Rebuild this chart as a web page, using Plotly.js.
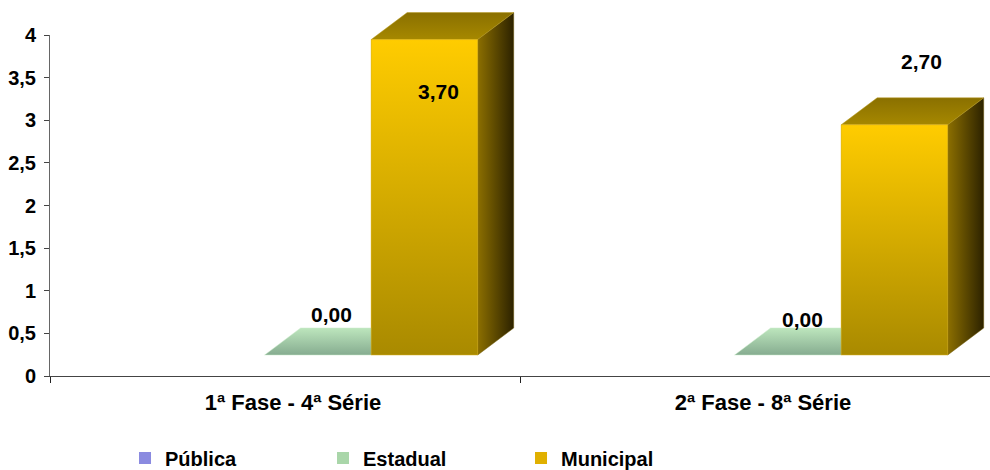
<!DOCTYPE html>
<html>
<head>
<meta charset="utf-8">
<script src="https://cdn.plot.ly/plotly-3.0.1.min.js"></script>
<style>html,body{margin:0;padding:0;background:#fff}#chart{width:990px;height:470px}</style>
</head>
<body>
<div id="chart"></div>
<script>
// ---- data ----
const categories = ['1ª Fase - 4ª Série', '2ª Fase - 8ª Série'];
const seriesNames = ['Pública', 'Estadual', 'Municipal'];
const publica = [null, null];
const estadual = [0, 0];
const municipal = [3.70, 2.70];
const yTickVals = [0, 0.5, 1, 1.5, 2, 2.5, 3, 3.5, 4];

// ---- styles ----
const seriesValues = [publica, estadual, municipal];
const legendColors = ['#8A8AE0', '#A9D6A9', '#E0B000'];
const frontScales = [
  [[0, '#5A5AB0'], [1, '#9A9AF0']],
  [[0, '#86A88E'], [1, '#BDE6BD']],
  [[0, '#A98A00'], [1, '#FFCC00']]
];
const sideScales = [
  [[0, '#4A4A90'], [1, '#202050']],
  [[0, '#6E8E74'], [1, '#3A5040']],
  [[0, '#8C6F00'], [1, '#2C2200']]
];
const topScales = [
  [[0, '#7070C0'], [1, '#8080D0']],
  [[0, '#86AC90'], [1, '#BDE6BD']],
  [[0, '#A68800'], [1, '#8A7000']]
];
// label offsets in pixels [series][category]
const labelShiftX = [[0, 0], [14, 15], [14, 27]];
const labelShiftY = [[0, 0], [41, 36], [-52, 63]];

const W = 990, H = 470;
const M = {l: 50, r: 0, t: 0, b: 94, autoexpand: false};
const plotW = W - M.l - M.r;          // 940
const plotH = H - M.t - M.b;          // 376
const axisTopPx = 35;                 // pixel of y=4 on visible axis
const yPx = (plotH - axisTopPx) / 4;  // px per unit
const xPx = plotW / 2;                // px per category
const bargap = 0.32;
const bw = (1 - bargap) / 3;
const depthDX = 36 / xPx;
const depthDY = 27 / yPx;
const floorLiftPx = 21;               // front floor above axis line
const groupShift = 0.07;              // category shift of bar groups

const fam = 'Liberation Sans, Arial, sans-serif';
const tickFont = {family: fam, size: 20, color: '#000', weight: 'bold'};
const catFont = {family: fam, size: 22, color: '#000', weight: 'bold'};
const labelFont = {family: fam, size: 21, color: '#000', weight: 'bold'};
const legendFont = {family: fam, size: 20, color: '#000', weight: 'bold'};

const traces = [];
// dummy trace to hold categories on visible axes
traces.push({type: 'scatter', x: categories, y: [0, 0], xaxis: 'x', yaxis: 'y', mode: 'markers',
  marker: {opacity: 0}, showlegend: false, hoverinfo: 'skip'});

const idx = categories.map((c, j) => j);
seriesValues.forEach((vals, i) => {
  traces.push({
    type: 'bar', name: seriesNames[i], x: idx, y: vals, xaxis: 'x2', yaxis: 'y2',
    marker: {color: legendColors[i], line: {width: 0}}, hoverinfo: 'name+y'
  });
});

const annotations = [];
seriesValues.forEach((vals, i) => {
  vals.forEach((v, j) => {
    if (v === null || v === undefined) return;
    const xc = j + (i - 1) * bw;
    const x0 = xc - bw / 2, x1 = xc + bw / 2;
    const y0 = 0, y1 = v;
    if (v > 0) {
      traces.push({type: 'scatter', xaxis: 'x2', yaxis: 'y2', mode: 'lines', showlegend: false, hoverinfo: 'skip',
        x: [x1, x1, x1 + depthDX, x1 + depthDX, x1], y: [y0, y1, y1 + depthDY, y0 + depthDY, y0],
        fill: 'toself', line: {width: 0.5, color: '#6A5400'},
        fillgradient: {type: 'horizontal', colorscale: sideScales[i]}});
    }
    traces.push({type: 'scatter', xaxis: 'x2', yaxis: 'y2', mode: 'lines', showlegend: false, hoverinfo: 'skip',
      x: [x0, x1, x1 + depthDX, x0 + depthDX, x0], y: [y1, y1, y1 + depthDY, y1 + depthDY, y1],
      fill: 'toself', line: {width: 0.5, color: i === 1 ? '#C8EAC8' : '#B89A20'},
      fillgradient: {type: 'vertical', colorscale: topScales[i]}});
    if (v > 0) {
      traces.push({type: 'scatter', xaxis: 'x2', yaxis: 'y2', mode: 'lines', showlegend: false, hoverinfo: 'skip',
        x: [x0, x1, x1, x0, x0], y: [y0, y0, y1, y1, y0],
        fill: 'toself', line: {width: 0.5, color: '#D8B020'},
        fillgradient: {type: 'vertical', colorscale: frontScales[i]}});
    }
    annotations.push({xref: 'x2', yref: 'y2', x: xc, y: v, text: v.toFixed(2).replace('.', ','),
      showarrow: false, font: labelFont, xshift: labelShiftX[i][j], yshift: labelShiftY[i][j]});
  });
});

const layout = {
  width: W, height: H, margin: M,
  paper_bgcolor: '#fff', plot_bgcolor: 'rgba(0,0,0,0)',
  separators: ',.',
  font: tickFont,
  barmode: 'group', bargap: bargap, bargroupgap: 0,
  showlegend: true,
  legend: {orientation: 'h', x: 0.0798, xanchor: 'left', y: -0.218, yanchor: 'middle',
    entrywidth: 153, entrywidthmode: 'pixels', font: legendFont, traceorder: 'normal', itemclick: false},
  xaxis: {domain: [0, 1], anchor: 'y', type: 'category', range: [-0.5, 1.5], tickson: 'boundaries',
    ticks: 'outside', ticklen: 6, tickcolor: '#222', showline: true, linecolor: '#444', linewidth: 1,
    showgrid: false, zeroline: false, tickfont: catFont, ticklabelstandoff: 7, ticklabelshift: 8},
  yaxis: {domain: [0, (plotH - axisTopPx) / plotH], anchor: 'x', range: [0, 4], tickvals: yTickVals,
    ticks: 'outside', ticklen: 5, tickcolor: '#444', showline: true, linecolor: '#666', linewidth: 1,
    showgrid: false, zeroline: false, tickfont: tickFont, ticklabelstandoff: 4},
  xaxis2: {domain: [0, 1], anchor: 'y2', range: [-0.5 - groupShift, 1.5 - groupShift], visible: false, fixedrange: true},
  yaxis2: {domain: [0, 1], anchor: 'x2', range: [-floorLiftPx / yPx, (plotH - floorLiftPx) / yPx], visible: false, fixedrange: true},
  annotations: annotations
};

Plotly.newPlot('chart', traces, layout, {displayModeBar: false, staticPlot: true});
</script>
</body>
</html>
